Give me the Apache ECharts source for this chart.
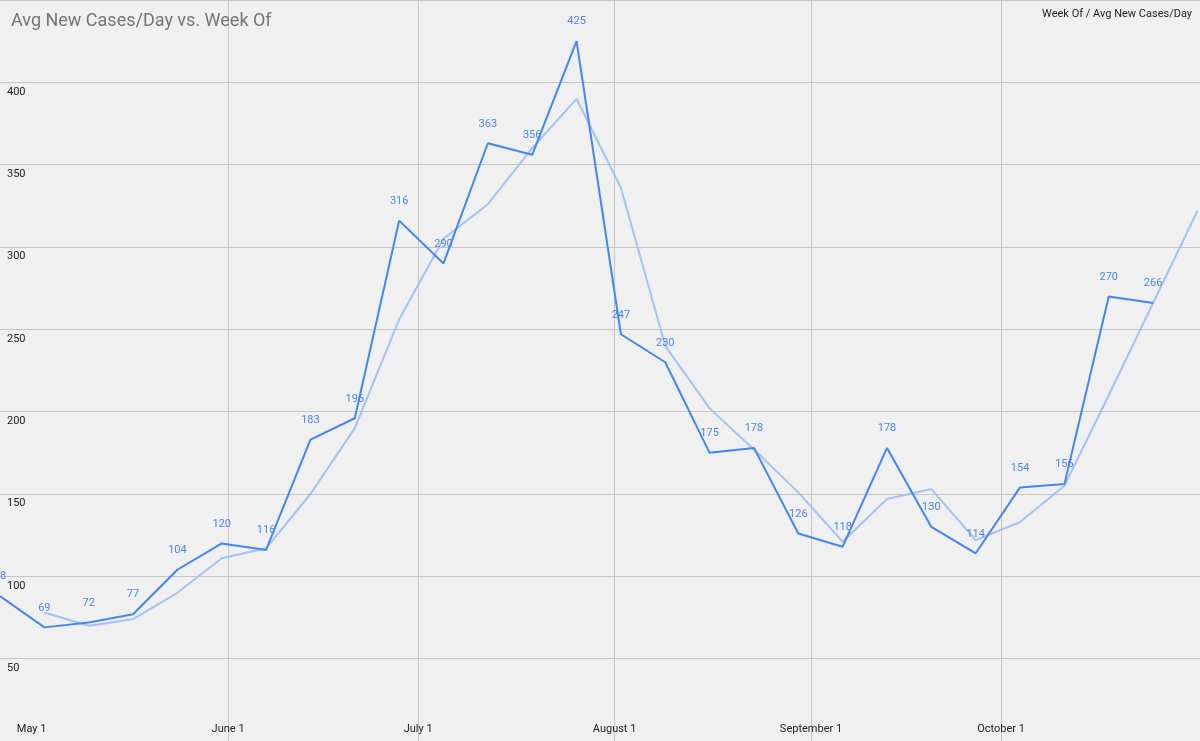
<!DOCTYPE html>
<html><head><meta charset="utf-8">
<script src="https://cdn.jsdelivr.net/npm/echarts@6/dist/echarts.min.js"></script>
<style>html,body{margin:0;padding:0;background:#f0f0f0}#c{width:1200px;height:741px}</style>
</head><body><div id="c"></div>
<script>
// days since Apr 26 2020
const monthTicks = [5, 36, 66, 97, 128, 158];
const monthLabels = ['May 1', 'June 1', 'July 1', 'August 1', 'September 1', 'October 1'];
const weekDays = [0,7,14,21,28,35,42,49,56,63,70,77,84,91,98,105,112,119,126,133,140,147,154,161,168,175,182];
const cases = [88,69,72,77,104,120,116,183,196,316,290,363,356,425,247,230,175,178,126,118,178,130,114,154,156,270,266];
const avgDays = [7,14,21,28,35,42,49,56,63,70,77,84,91,98,105,112,119,126,133,140,147,154,161,168,175,182,189];
const avgVals = [78,70,74,90,111,117,150,190,256,305,326,360,390,336,240,202,177,151,121,147,153,122,133,155,210,266,322];
const labelMap = {}; monthTicks.forEach((d,i)=>labelMap[d]=monthLabels[i]);
const chart = echarts.init(document.getElementById('c'));
chart.setOption({
  backgroundColor:'#f0f0f0',
  animation:false,
  textStyle:{fontFamily:'Roboto'},
  title:{text:'Avg New Cases/Day vs. Week Of',left:6,top:7,textStyle:{color:'#757575',fontSize:18,fontWeight:'normal',fontFamily:'Roboto'}},
  graphic:[{type:'text',right:8,top:9,style:{text:'Week Of / Avg New Cases/Day',fontSize:11,fill:'#222',fontFamily:'Roboto'}}],
  grid:{left:0,right:0,top:0,bottom:0},
  xAxis:{type:'value',min:0,max:189.4,
    axisLine:{show:false},
    axisTick:{show:false,customValues:monthTicks},
    axisLabel:{inside:true,customValues:monthTicks,formatter:v=>labelMap[Math.round(v)]||'',color:'#222',fontSize:11,margin:6},
    splitLine:{show:true,showMinLine:false,lineStyle:{color:'#c6c6c6',width:1}}},
  yAxis:{type:'value',min:0,max:450,interval:50,
    axisLine:{show:false},axisTick:{show:false},
    axisLabel:{inside:true,formatter:v=>(v===0||v===450)?'':String(v),color:'#222',fontSize:11,verticalAlign:'top',margin:7,padding:[4,0,0,0]},
    splitLine:{lineStyle:{color:'#c6c6c6',width:1}}},
  series:[
    {type:'line',data:avgDays.map((d,i)=>[d,avgVals[i]]),showSymbol:false,lineStyle:{color:'#a4c2f4',width:2},z:2},
    {type:'line',data:weekDays.map((d,i)=>[d,cases[i]]),symbol:'circle',symbolSize:0,showSymbol:true,lineStyle:{color:'#4285f4',width:2},z:3,
     label:{show:true,position:'top',distance:14,color:'#4a86e8',fontSize:11}}
  ]
});
</script></body></html>
